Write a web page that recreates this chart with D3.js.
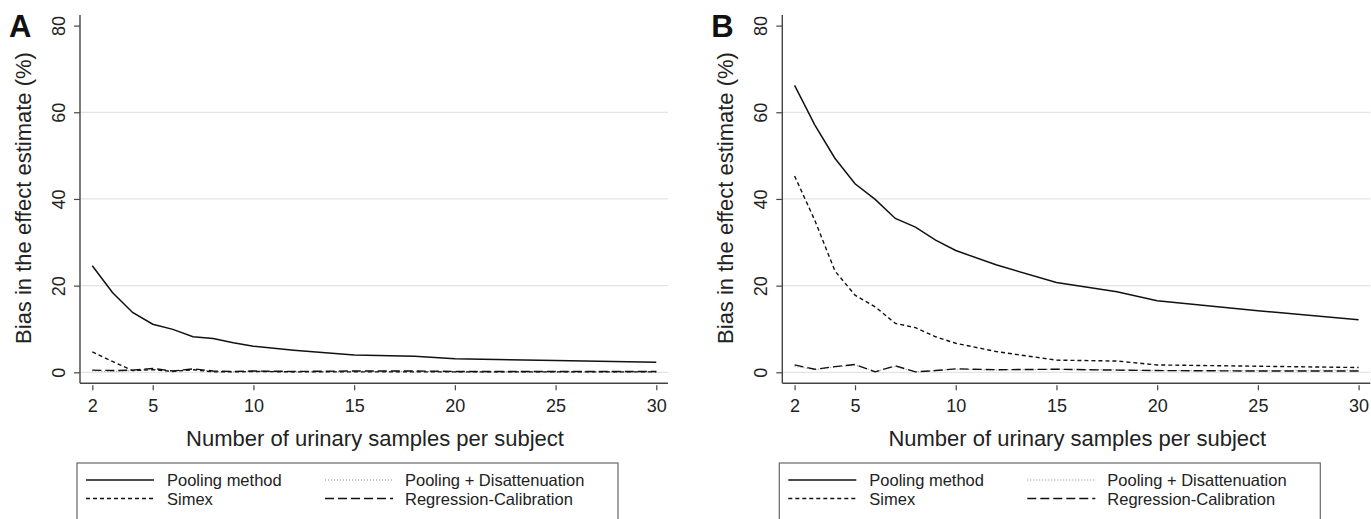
<!DOCTYPE html>
<html>
<head>
<meta charset="utf-8">
<script src="https://cdn.jsdelivr.net/npm/d3@7/dist/d3.min.js"></script>
<style>
  html, body { margin: 0; padding: 0; background: #fff; }
  svg { display: block; font-family: "Liberation Sans", Arial, Helvetica, sans-serif; }
</style>
</head>
<body>
<svg id="chart" width="1371" height="519"></svg>
<script>
// ---- data ----
const samples = [2, 3, 4, 5, 6, 7, 8, 9, 10, 12, 15, 18, 20, 25, 30];
const xTicks = [2, 5, 10, 15, 20, 25, 30];
const yTicks = [0, 20, 40, 60, 80];
const gridTicks = [0, 20, 40, 60];
const seriesNames = ["Pooling method", "Simex", "Pooling + Disattenuation", "Regression-Calibration"];

const poolingA = [24.6, 18.4, 13.8, 11.1, 9.9, 8.2, 7.8, 6.8, 6.0, 5.1, 4.0, 3.7, 3.1, 2.7, 2.3];
const simexA   = [4.7, 2.5, 0.4, 0.6, 0.2, 0.6, 0.1, 0.1, 0.2, 0.1, 0.1, 0.1, 0.1, 0.1, 0.1];
const disattA  = [0.3, 0.2, 0.4, 0.7, 0.2, 0.7, 0.2, 0.1, 0.2, 0.1, 0.2, 0.2, 0.1, 0.1, 0.1];
const regcalA  = [0.5, 0.4, 0.5, 0.9, 0.3, 0.8, 0.3, 0.2, 0.3, 0.2, 0.3, 0.3, 0.2, 0.2, 0.2];

const poolingB = [66.2, 57.1, 49.4, 43.5, 39.9, 35.5, 33.5, 30.5, 28.1, 24.8, 20.7, 18.6, 16.5, 14.2, 12.1];
const simexB   = [45.3, 35.1, 23.4, 17.8, 15.1, 11.3, 10.3, 8.2, 6.7, 4.8, 2.8, 2.6, 1.7, 1.4, 1.1];
const disattB  = [1.4, 0.6, 1.2, 1.7, 0.2, 1.3, 0.1, 0.4, 0.7, 0.5, 0.7, 0.6, 0.4, 0.4, 0.5];
const regcalB  = [1.7, 0.7, 1.3, 1.8, 0.1, 1.5, 0.1, 0.4, 0.8, 0.6, 0.7, 0.5, 0.4, 0.3, 0.3];

// ---- styles ----
const styles = [
  { stroke: "#111", width: 1.5, dash: null },
  { stroke: "#111", width: 1.4, dash: "4,3" },
  { stroke: "#888", width: 1.0, dash: "1,2" },
  { stroke: "#111", width: 1.4, dash: "9,4" }
];

const svg = d3.select("#chart");
const font = "\"Liberation Sans\", Arial, Helvetica, sans-serif";

function drawPanel(offsetX, letter, series) {
  const g = svg.append("g").attr("transform", `translate(${offsetX},0)`);
  const x = d3.scaleLinear().domain([2, 30]).range([92.3, 656.3]);
  const y = d3.scaleLinear().domain([0, 80]).range([372.3, 25.6]);
  const axisLeft = 80, axisRight = 668, axisBottom = 383.3, axisTop = 15;

  // gridlines
  g.append("g").selectAll("line").data(gridTicks).join("line")
    .attr("x1", axisLeft).attr("x2", axisRight)
    .attr("y1", d => y(d)).attr("y2", d => y(d))
    .attr("stroke", "#e4e4e4").attr("stroke-width", 1.2);

  // series
  const line = d3.line().x((d, i) => x(samples[i])).y(d => y(d));
  const order = [2, 3, 1, 0];
  order.forEach(k => {
    const st = styles[k];
    g.append("path").datum(series[k])
      .attr("d", line)
      .attr("fill", "none")
      .attr("stroke", st.stroke)
      .attr("stroke-width", st.width)
      .attr("stroke-dasharray", st.dash);
  });

  // y axis
  const ya = g.append("g").attr("transform", `translate(${axisLeft},0)`)
    .call(d3.axisLeft(y).tickValues(yTicks).tickSize(6).tickPadding(0).tickFormat(d3.format("d")));
  ya.select(".domain").attr("d", `M0,${axisTop}V${axisBottom}`).attr("stroke", "#444").attr("stroke-width", 1.4);
  ya.selectAll(".tick line").attr("stroke", "#444").attr("stroke-width", 1.2);
  ya.selectAll(".tick text")
    .attr("x", null).attr("dy", null)
    .attr("transform", "translate(-21.5,0) rotate(-90)")
    .attr("text-anchor", "middle")
    .attr("dominant-baseline", "central")
    .attr("font-family", font).attr("font-size", 18).attr("fill", "#222");

  // x axis
  const xa = g.append("g").attr("transform", `translate(0,${axisBottom})`)
    .call(d3.axisBottom(x).tickValues(xTicks).tickSize(7).tickPadding(9).tickFormat(d3.format("d")));
  xa.select(".domain").attr("d", `M${axisLeft},0H${axisRight}`).attr("stroke", "#444").attr("stroke-width", 1.4);
  xa.selectAll(".tick line").attr("stroke", "#444").attr("stroke-width", 1.2).attr("y1", 2);
  xa.selectAll(".tick text").attr("font-family", font).attr("font-size", 18).attr("fill", "#222");

  // axis titles
  g.append("text")
    .attr("transform", `translate(23,198) rotate(-90)`)
    .attr("text-anchor", "middle").attr("dominant-baseline", "central")
    .attr("font-family", font).attr("font-size", 22).attr("fill", "#222")
    .text("Bias in the effect estimate (%)");
  g.append("text")
    .attr("x", 375).attr("y", 438)
    .attr("text-anchor", "middle").attr("dominant-baseline", "central")
    .attr("font-family", font).attr("font-size", 22).attr("fill", "#222")
    .text("Number of urinary samples per subject");

  // panel letter
  g.append("text").attr("x", 9).attr("y", 37)
    .attr("font-family", font).attr("font-size", 31).attr("font-weight", "bold").attr("fill", "#111")
    .text(letter);

  // legend
  const lg = g.append("g").attr("transform", "translate(77,463)");
  lg.append("rect").attr("x", 0).attr("y", 0).attr("width", 541).attr("height", 80)
    .attr("fill", "#fff").attr("stroke", "#666").attr("stroke-width", 1.2);
  const pos = [
    { lx: 9, tx: 90, ty: 17 },
    { lx: 9, tx: 90, ty: 35.5 },
    { lx: 248, tx: 328, ty: 17 },
    { lx: 248, tx: 328, ty: 35.5 }
  ];
  seriesNames.forEach((name, k) => {
    const p = pos[k], st = styles[k];
    lg.append("line").attr("x1", p.lx).attr("x2", p.lx + 68).attr("y1", p.ty).attr("y2", p.ty)
      .attr("stroke", st.stroke).attr("stroke-width", st.width).attr("stroke-dasharray", st.dash);
    lg.append("text").attr("x", p.tx).attr("y", p.ty).attr("dominant-baseline", "central")
      .attr("font-family", font).attr("font-size", 16.5).attr("fill", "#222").text(name);
  });
}

drawPanel(0, "A", [poolingA, simexA, disattA, regcalA]);
drawPanel(702.3, "B", [poolingB, simexB, disattB, regcalB]);
</script>
</body>
</html>
